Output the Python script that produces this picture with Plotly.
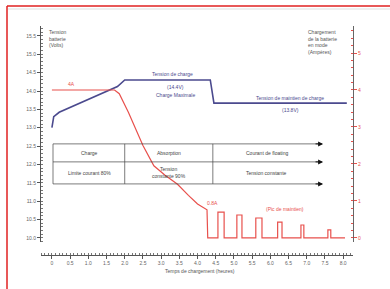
import plotly.graph_objects as go

# ---- data ----
volt_t = [0, 0.05, 0.2, 1.0, 1.8, 2.0, 4.35, 4.45, 8.1]
volt_v = [13.0, 13.3, 13.42, 13.77, 14.12, 14.3, 14.3, 13.67, 13.67]

cur_t = [0, 1.72, 1.85, 2.1, 2.5, 2.8, 3.1, 3.45, 3.75, 4.0, 4.26, 4.28]
cur_i = [4.0, 4.0, 3.9, 3.4, 2.5, 1.95, 1.7, 1.45, 1.15, 0.92, 0.76, 0.0]

pulse_start = [4.56, 5.08, 5.60, 6.20, 6.84, 7.58]
pulse_end = [4.73, 5.22, 5.77, 6.32, 6.92, 7.66]
pulse_peak = [0.70, 0.62, 0.54, 0.43, 0.35, 0.22]
float_end = 8.05

x_ticks = [i * 0.5 for i in range(17)]
x_labels = ["0"] + [f"{v:.1f}" for v in x_ticks[1:]]
yl_ticks = [10 + i * 0.5 for i in range(12)]
yl_labels = [f"{v:.1f}" for v in yl_ticks]
yr_ticks = [0, 1, 2, 3, 4, 5]
yr_labels = [str(v) for v in yr_ticks]

row1 = ["Charge", "Absorption", "Courant de floating"]
row2 = ["Limite courant 80%", "Tension<br>constante 90%", "Tension constante"]

BLUE = "#4b4a8e"
RED = "#e8504c"
GREY = "#666666"
FONT = "Liberation Sans"

# build the pulse train after the charge
pt, pi = [cur_t[-1]], [0.0]
for s, e, p in zip(pulse_start, pulse_end, pulse_peak):
    pt += [s, s, e, e]
    pi += [0, p, p, 0]
pt.append(float_end)
pi.append(0)

fig = go.Figure()
fig.add_trace(go.Scatter(x=volt_t, y=volt_v, mode="lines",
                         line=dict(color=BLUE, width=1.6), yaxis="y", showlegend=False))
fig.add_trace(go.Scatter(x=cur_t + pt, y=cur_i + pi, mode="lines",
                         line=dict(color=RED, width=1.2), yaxis="y2", showlegend=False))

shapes = []
annotations = []
# table
t_left, d1, d2, t_right = 0.03, 2.0, 4.42, 7.35
y_top, y_mid, y_bot = 12.56, 12.07, 11.47
for yy in (y_top, y_mid, y_bot):
    shapes.append(dict(type="line", xref="x", yref="y", x0=t_left, x1=t_right, y0=yy, y1=yy,
                       line=dict(color="#444", width=0.7)))
    annotations.append(dict(x=7.45, y=yy, ax=7.2, ay=yy, xref="x", yref="y", axref="x", ayref="y",
                            text="", showarrow=True, arrowhead=2, arrowsize=1, arrowwidth=1,
                            arrowcolor="#111"))
for xx in (t_left, d1, d2):
    shapes.append(dict(type="line", xref="x", yref="y", x0=xx, x1=xx, y0=y_bot, y1=y_top,
                       line=dict(color="#444", width=0.7)))
col_c = [1.02, 3.21, 5.9]
for c, a, b in zip(col_c, row1, row2):
    annotations.append(dict(x=c, y=12.31, xref="x", yref="y", text=a, showarrow=False,
                            font=dict(size=5, color="#444", family=FONT)))
    annotations.append(dict(x=c, y=11.77, xref="x", yref="y", text=b, showarrow=False,
                            font=dict(size=5, color="#444", family=FONT)))

# blue labels
for x, y, t in [(3.3, 14.46, "Tension de charge"), (3.4, 14.12, "(14.4V)"),
                (3.4, 13.9, "Charge Maximale"), (6.54, 13.81, "Tension de maintien de charge"),
                (6.54, 13.47, "(13.8V)")]:
    annotations.append(dict(x=x, y=y, xref="x", yref="y", text=t, showarrow=False,
                            font=dict(size=5, color=BLUE, family=FONT)))
# red labels
for x, y, t in [(0.55, 4.15, "4A"), (4.42, 0.95, "0.8A"), (6.4, 0.78, "(Pic de maintien)")]:
    annotations.append(dict(x=x, y=y, xref="x", yref="y2", text=t, showarrow=False,
                            font=dict(size=5, color=RED, family=FONT)))

# axis titles (pixel positions -> paper)
def px(xp):
    return (xp - 41) / 312

def py(yp):
    return (255 - yp) / 229

annotations.append(dict(x=px(47), y=py(27), xref="paper", yref="paper", xanchor="left", yanchor="top",
                        align="left", text="Tension<br>batterie<br>(Volts)", showarrow=False,
                        font=dict(size=5, color="#555", family=FONT)))
annotations.append(dict(x=px(306), y=py(27), xref="paper", yref="paper", xanchor="left", yanchor="top",
                        align="left", text="Chargement<br>de la batterie<br>en mode<br>(Ampères)",
                        showarrow=False, font=dict(size=5, color="#555", family=FONT)))
annotations.append(dict(x=px(200), y=py(271), xref="paper", yref="paper", xanchor="center",
                        yanchor="middle", text="Temps de chargement (heures)", showarrow=False,
                        font=dict(size=5, color="#555", family=FONT)))

# frame (left and top red edges, faint inner line)
shapes.append(dict(type="line", xref="paper", yref="paper", x0=px(7), x1=px(7), y0=py(289), y1=py(6),
                   line=dict(color="#e02020", width=1.5), layer="below"))
shapes.append(dict(type="line", xref="paper", yref="paper", x0=px(7), x1=px(390), y0=py(6), y1=py(6),
                   line=dict(color="#e02020", width=1.5), layer="below"))
shapes.append(dict(type="line", xref="paper", yref="paper", x0=px(8), x1=px(390), y0=py(9), y1=py(9),
                   line=dict(color="#dddddd", width=1), layer="below"))

fig.update_layout(
    width=390, height=289,
    margin=dict(l=41, r=37, t=26, b=34),
    paper_bgcolor="white", plot_bgcolor="white",
    font=dict(family=FONT, size=5, color=GREY),
    shapes=shapes, annotations=annotations,
    xaxis=dict(range=[-0.3, 8.27], domain=[0, 1], anchor="free", position=0,
               showgrid=False, zeroline=False, showline=True, linecolor="#555", linewidth=1,
               tickvals=x_ticks, ticktext=x_labels, ticks="outside", ticklen=3, tickcolor="#555",
               tickfont=dict(size=5, color=GREY),
               minor=dict(dtick=0.1, ticks="inside", ticklen=2, tickcolor="#777")),
    yaxis=dict(range=[9.89, 15.77], domain=[0.057, 1], anchor="x",
               showgrid=False, zeroline=False, showline=True, linecolor="#555", linewidth=1,
               tickvals=yl_ticks, ticktext=yl_labels, ticks="outside", ticklen=3, tickcolor="#555",
               tickfont=dict(size=5, color=GREY),
               minor=dict(dtick=0.1, ticks="inside", ticklen=2, tickcolor="#777")),
    yaxis2=dict(range=[-0.108, 5.73], domain=[0.057, 1], overlaying="y", side="right", anchor="x",
                showgrid=False, zeroline=False, showline=True, linecolor="#666", linewidth=1,
                tickvals=yr_ticks, ticktext=yr_labels, ticks="outside", ticklen=3, tickcolor=RED,
                tickfont=dict(size=5, color=RED),
                minor=dict(dtick=0.2, ticks="inside", ticklen=2, tickcolor=RED)),
)

fig.write_html("out.html", config={"displayModeBar": False},
               post_script="document.body.style.margin='0';document.body.style.overflow='hidden';")
